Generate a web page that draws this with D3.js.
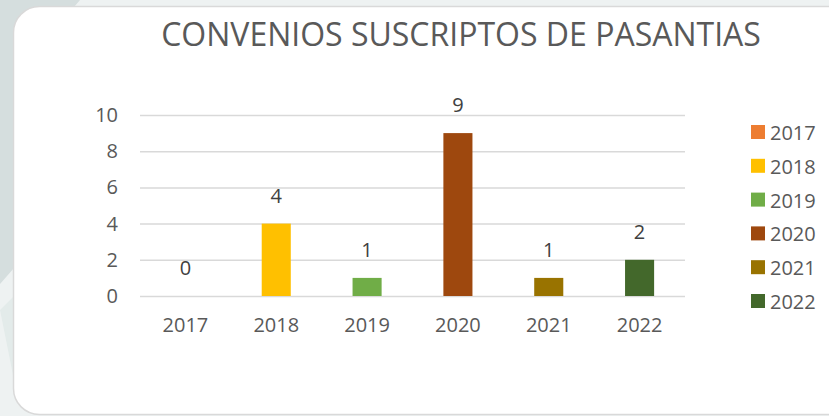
<!DOCTYPE html>
<html>
    <head>
        <meta charset="utf-8">
        <title>Convenios suscriptos de pasantias</title>
        <script src="https://cdn.jsdelivr.net/npm/d3@7/dist/d3.min.js"></script>
        <style>
            body { margin: 0; background: #eef2f2; }
            svg { display: block; font-family: 'Open Sans', sans-serif; }
        </style>
    </head>

    <body>
        <svg width="829" height="416" id="mainsvg"></svg>
        <script>
            // data
            const years = ['2017', '2018', '2019', '2020', '2021', '2022']
            const convenios = [0, 4, 1, 9, 1, 2]
            const colors = ['#ed7d31', '#ffc000', '#70ad47', '#9e480e', '#997300', '#43682b']
            const yTicks = [0, 2, 4, 6, 8, 10]
            const title = 'CONVENIOS SUSCRIPTOS DE PASANTIAS'

            const svg = d3.select('svg')
            const width = +svg.attr('width')
            const height = +svg.attr('height')
            const margin = {top: 115, right: 144, bottom: 120, left: 140}
            const innerWidth = width - margin.left - margin.right
            const innerHeight = height - margin.top - margin.bottom

            // slide decoration behind the card
            svg.append('path')
                .attr('d', 'M0,0 L80,0 L20,70 L14,268 L0,284 Z')
                .attr('fill', '#d5dede')
            svg.append('path')
                .attr('d', 'M0,310 L14,296 L14,380 Z')
                .attr('fill', '#e3ebea')

            // white card
            svg.append('rect')
                .attr('x', 13.5).attr('y', 6.5)
                .attr('width', 840).attr('height', 408)
                .attr('rx', 26).attr('ry', 26)
                .attr('fill', '#ffffff')
                .attr('stroke', '#d9d9d9')
                .attr('stroke-width', 1.5)

            svg.append('text')
                .attr('x', 461)
                .attr('y', 46)
                .attr('text-anchor', 'middle')
                .attr('font-size', '32px')
                .attr('fill', '#595959')
                .text(title)

            const g = svg.append('g')
                .attr('transform', `translate(${margin.left}, ${margin.top})`)

            const xScale = d3.scaleBand()
                .domain(years)
                .range([0, innerWidth])
                .paddingInner(0.68)
                .paddingOuter(0.34)
            const yScale = d3.scaleLinear()
                .domain([0, 10])
                .range([innerHeight, 0])
            const colorScale = d3.scaleOrdinal().domain(years).range(colors)

            const yAxis = d3.axisLeft(yScale)
                .tickValues(yTicks)
                .tickSize(-innerWidth)
                .tickPadding(22)
            const yAxisGroup = g.append('g').call(yAxis)
            yAxisGroup.select('.domain').remove()
            yAxisGroup.selectAll('.tick line')
                .attr('stroke', '#d9d9d9')
                .attr('stroke-width', 1.5)
            yAxisGroup.selectAll('.tick text')
                .attr('font-size', '20px')
                .attr('font-family', 'Open Sans, sans-serif')
                .attr('fill', '#595959')

            const xAxis = d3.axisBottom(xScale).tickSize(0).tickPadding(22)
            const xAxisGroup = g.append('g')
                .attr('transform', `translate(0, ${innerHeight})`)
                .call(xAxis)
            xAxisGroup.select('.domain').remove()
            xAxisGroup.selectAll('.tick text')
                .attr('font-size', '20px')
                .attr('font-family', 'Open Sans, sans-serif')
                .attr('fill', '#595959')

            const data = years.map((y, i) => ({year: y, value: convenios[i]}))

            g.selectAll('rect.bar')
                .data(data)
                .join('rect')
                .attr('class', 'bar')
                .attr('x', d => xScale(d.year))
                .attr('y', d => yScale(d.value))
                .attr('width', xScale.bandwidth())
                .attr('height', d => innerHeight - yScale(d.value))
                .attr('fill', d => colorScale(d.year))

            g.selectAll('text.label')
                .data(data)
                .join('text')
                .attr('class', 'label')
                .attr('x', d => xScale(d.year) + xScale.bandwidth() / 2)
                .attr('y', d => yScale(d.value) - 21)
                .attr('text-anchor', 'middle')
                .attr('font-size', '20px')
                .attr('fill', '#404040')
                .text(d => d.value)

            const legend = svg.append('g')
                .attr('transform', 'translate(751, 125)')
            const items = legend.selectAll('g')
                .data(years)
                .join('g')
                .attr('transform', (d, i) => `translate(0, ${i * 33.8})`)
            items.append('rect')
                .attr('width', 14)
                .attr('height', 14)
                .attr('fill', d => colorScale(d))
            items.append('text')
                .attr('x', 19)
                .attr('y', 15)
                .attr('font-size', '20px')
                .attr('fill', '#595959')
                .text(d => d)
        </script>
    </body>
</html>
